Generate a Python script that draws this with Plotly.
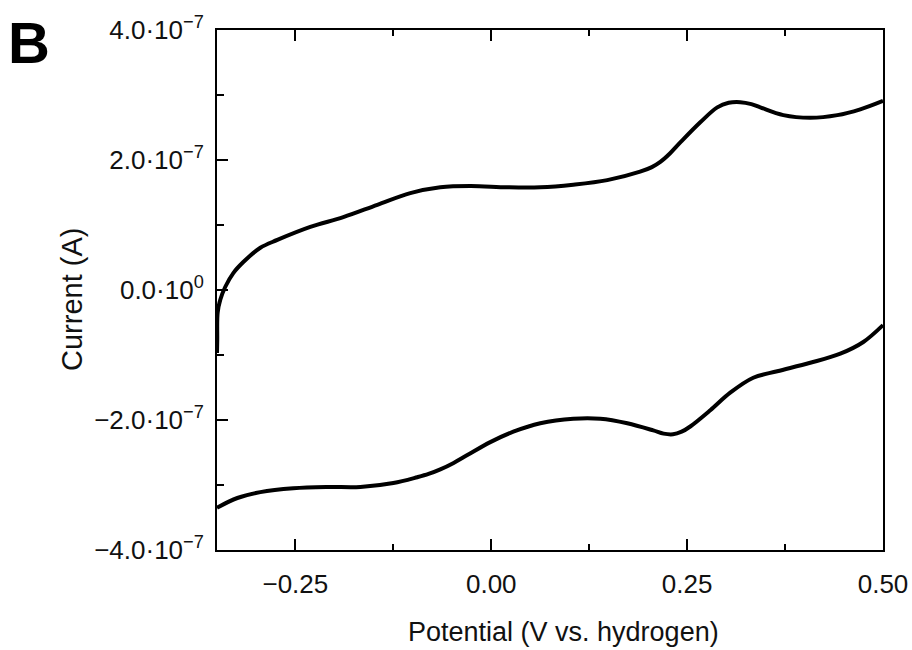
import plotly.graph_objects as go

# Forward (upper) scan: potential (V) and current (units of 1e-7 A)
fwd_potential = [-0.35, -0.3497, -0.3492, -0.3458, -0.3394, -0.3292, -0.3164, -0.2947, -0.273,
                 -0.2309, -0.1888, -0.1454, -0.1033, -0.065, -0.0267, 0.0205, 0.0626, 0.1047,
                 0.1481, 0.19, 0.205, 0.2158, 0.228, 0.2413, 0.2668, 0.2885, 0.303, 0.3179,
                 0.332, 0.3434, 0.3728, 0.4072, 0.4417, 0.471, 0.50]
fwd_current_e7 = [-0.97, -0.77, -0.35, -0.15, 0.05, 0.26, 0.43, 0.65, 0.77,
                  0.97, 1.12, 1.31, 1.49, 1.58, 1.60, 1.58, 1.58, 1.62,
                  1.69, 1.82, 1.89, 1.97, 2.10, 2.27, 2.58, 2.81, 2.88, 2.89,
                  2.86, 2.81, 2.69, 2.65, 2.69, 2.78, 2.91]

# Reverse (lower) scan
rev_potential = [-0.35, -0.324, -0.2947, -0.2526, -0.2092, -0.167, -0.1249, -0.0943, -0.08,
                 -0.065, -0.048, -0.0305, -0.0012, 0.0282, 0.0626, 0.1047, 0.1392, 0.1737,
                 0.2068, 0.22, 0.232, 0.243, 0.254, 0.2796, 0.305, 0.3344, 0.3651, 0.4072,
                 0.4455, 0.4749, 0.50]
rev_current_e7 = [-3.35, -3.20, -3.11, -3.05, -3.03, -3.03, -2.97, -2.88, -2.83,
                  -2.76, -2.66, -2.54, -2.34, -2.18, -2.05, -1.98, -1.98, -2.05,
                  -2.16, -2.21, -2.22, -2.18, -2.10, -1.85, -1.58, -1.35, -1.25, -1.12,
                  -0.98, -0.80, -0.54]

x_tickvals = [-0.25, 0.0, 0.25, 0.5]
x_ticktext = ["\u22120.25", "0.00", "0.25", "0.50"]
y_tickvals = [4e-7, 2e-7, 0.0, -2e-7, -4e-7]
y_ticktext = ["4.0\u00b710<sup>\u22127</sup>", "2.0\u00b710<sup>\u22127</sup>", "0.0\u00b710<sup>0</sup>",
              "\u22122.0\u00b710<sup>\u22127</sup>", "\u22124.0\u00b710<sup>\u22127</sup>"]

FONT = "Liberation Sans, Arial, Helvetica, sans-serif"

fig = go.Figure()
for xs, ys in [(fwd_potential, fwd_current_e7), (rev_potential, rev_current_e7)]:
    fig.add_trace(go.Scatter(
        x=xs, y=[v * 1e-7 for v in ys], mode="lines",
        line=dict(color="black", width=4, shape="spline", smoothing=1.0),
        showlegend=False, hoverinfo="skip"))

fig.update_layout(
    width=912, height=650,
    margin=dict(l=217, r=29, t=30, b=100),
    paper_bgcolor="white", plot_bgcolor="white",
    font=dict(family=FONT, size=26, color="#111"),
    xaxis=dict(range=[-0.35, 0.5], tickvals=x_tickvals, ticktext=x_ticktext,
               ticks="inside", ticklen=11, tickwidth=2, tickcolor="black",
               minor=dict(tickvals=[-0.125, 0.125, 0.375], ticks="inside", ticklen=6,
                          tickwidth=2, tickcolor="black"),
               showline=True, linecolor="black", linewidth=2, mirror="ticks",
               showgrid=False, zeroline=False, ticklabelstandoff=10, automargin=False,
               tickfont=dict(family=FONT, size=26, color="#111")),
    yaxis=dict(range=[-4e-7, 4e-7], tickvals=y_tickvals, ticktext=y_ticktext,
               ticks="inside", ticklen=11, tickwidth=2, tickcolor="black",
               minor=dict(tickvals=[3e-7, 1e-7, -1e-7, -3e-7], ticks="inside", ticklen=7,
                          tickwidth=2, tickcolor="black"),
               showline=True, linecolor="black", linewidth=2, mirror=True,
               showgrid=False, zeroline=False, ticklabelstandoff=6, automargin=False,
               tickfont=dict(family=FONT, size=26, color="#111")),
    annotations=[
        dict(text="Potential (V vs. hydrogen)", x=563, y=632, showarrow=False,
             font=dict(family=FONT, size=27, color="#111")),
        dict(text="Current (A)", x=72, y=300, textangle=-90, showarrow=False,
             font=dict(family=FONT, size=29, color="#111")),
        dict(text="<b>B</b>", x=29, y=42, showarrow=False,
             font=dict(family=FONT, size=58, color="black")),
    ],
)

# convert pixel positions for annotations to paper coords
pw, ph = 912 - 217 - 29, 650 - 30 - 100
for a in fig.layout.annotations:
    px, py = a.x, a.y
    a.xref = "paper"; a.yref = "paper"
    a.x = (px - 217) / pw
    a.y = (650 - 100 - py) / ph
    a.xanchor = "center"; a.yanchor = "middle"

fig.write_html("out.html")
